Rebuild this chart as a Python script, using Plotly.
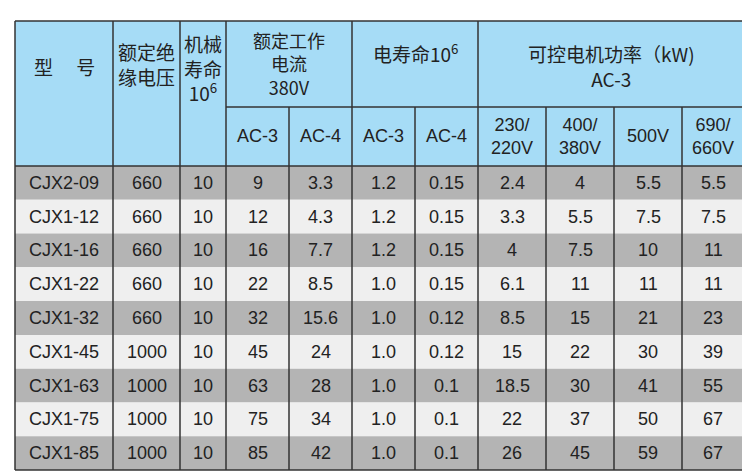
import plotly.graph_objects as go

models = ["CJX2-09", "CJX1-12", "CJX1-16", "CJX1-22", "CJX1-32", "CJX1-45", "CJX1-63", "CJX1-75", "CJX1-85"]
insul_v = ["660", "660", "660", "660", "660", "1000", "1000", "1000", "1000"]
mech_life = ["10"] * 9
cur_ac3 = ["9", "12", "16", "22", "32", "45", "63", "75", "85"]
cur_ac4 = ["3.3", "4.3", "7.7", "8.5", "15.6", "24", "28", "34", "42"]
elife_ac3 = ["1.2", "1.2", "1.2", "1.0", "1.0", "1.0", "1.0", "1.0", "1.0"]
elife_ac4 = ["0.15", "0.15", "0.15", "0.15", "0.12", "0.12", "0.1", "0.1", "0.1"]
p_220 = ["2.4", "3.3", "4", "6.1", "8.5", "15", "18.5", "22", "26"]
p_380 = ["4", "5.5", "7.5", "11", "15", "22", "30", "37", "45"]
p_500 = ["5.5", "7.5", "10", "11", "21", "30", "41", "50", "59"]
p_660 = ["5.5", "7.5", "11", "11", "23", "39", "55", "67", "67"]

columns = [models, insul_v, mech_life, cur_ac3, cur_ac4, elife_ac3, elife_ac4, p_220, p_380, p_500, p_660]
sub_headers = [None, None, None, "AC-3", "AC-4", "AC-3", "AC-4", "230/<br>220V", "400/<br>380V", "500V", "690/<br>660V"]

# layout (pixels)
col_edges = [7, 105, 172, 218, 281, 344, 407, 470, 538, 606, 674, 736]
top, mid, head_bot, bottom = 13, 99, 158, 462
row_h = (bottom - head_bot) / len(models)

HEAD = "#a6dcf6"
GRAY = "#b4b4b4"
LIGHT = "#efefef"
LINE = "#333333"
CN = "Noto Sans CJK SC"
EN = "Liberation Sans, Arial"

fig = go.Figure()
# invisible trace so the axes exist with fixed ranges
fig.add_trace(go.Scatter(x=[0, 750], y=[0, 472], mode="markers", marker=dict(opacity=0), hoverinfo="skip"))
shapes = []
ann = []

shapes.append(dict(type="rect", x0=col_edges[0], x1=col_edges[-1], y0=top, y1=head_bot,
                   fillcolor=HEAD, line_width=0, layer="below"))
for i in range(len(models)):
    y0 = head_bot + i * row_h
    shapes.append(dict(type="rect", x0=col_edges[0], x1=col_edges[-1], y0=y0, y1=y0 + row_h,
                       fillcolor=GRAY if i % 2 == 0 else LIGHT, line_width=0, layer="below"))

def line(x0, y0, x1, y1, w=1.5):
    shapes.append(dict(type="line", x0=x0, x1=x1, y0=y0, y1=y1, line=dict(color=LINE, width=w)))

line(col_edges[0], top, col_edges[-1], top)
line(col_edges[0], bottom, col_edges[-1], bottom)
line(col_edges[0], top, col_edges[0], bottom)
line(col_edges[-1], top, col_edges[-1], bottom)
line(col_edges[3], mid, col_edges[-1], mid)
line(col_edges[0], head_bot, col_edges[-1], head_bot)
for k, x in enumerate(col_edges[1:-1], start=1):
    if k in (4, 6, 8, 9, 10):
        line(x, mid, x, bottom)
    else:
        line(x, top, x, bottom)

def txt(x, y, s, size=18, font=EN):
    ann.append(dict(x=x, y=y, text=s, showarrow=False, xref="x", yref="y",
                    font=dict(size=size, color="#222222", family=font), align="center"))

def cx(a, b):
    return (col_edges[a] + col_edges[b]) / 2

txt(cx(0, 1), 58, "型　 号", size=19, font=CN)
txt(cx(1, 2), 56, "额定绝<br>缘电压", size=19, font=CN)
txt(cx(2, 3), 60, "机械<br>寿命<br>10<sup>6</sup>", size=19, font=CN)
txt(cx(3, 5), 55, "额定工作<br>电流<br>380V", size=18, font=CN)
txt(cx(5, 7), 45, "电寿命10<sup>6</sup>", size=19, font=CN)
txt(cx(7, 11), 58, "可控电机功率（kW)<br>AC-3", size=19, font=CN)
for k, s in enumerate(sub_headers):
    if s:
        txt(cx(k, k + 1), 128, s)

for k, col in enumerate(columns):
    for i, v in enumerate(col):
        txt(cx(k, k + 1), head_bot + (i + 0.5) * row_h, v)

fig.update_layout(
    width=750, height=472, margin=dict(l=0, r=0, t=0, b=0, pad=0),
    paper_bgcolor="white", plot_bgcolor="white",
    xaxis=dict(range=[0, 750], autorange=False, visible=False, fixedrange=True),
    yaxis=dict(range=[472, 0], autorange=False, visible=False, fixedrange=True),
    shapes=shapes, annotations=ann, showlegend=False,
)
fig.write_html("out.html")
